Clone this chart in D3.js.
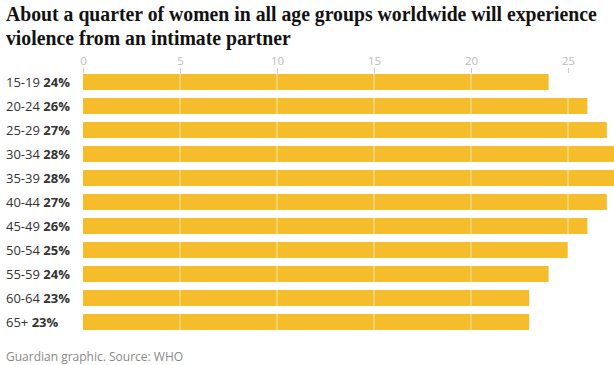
<!DOCTYPE html>
<html>
<head>
<meta charset="UTF-8">
<title>Intimate partner violence by age group</title>
<script src="https://d3js.org/d3.v7.min.js"></script>
<style>
  body { margin: 0; background: #fff; }
  svg { font-family: "Open Sans", sans-serif; }
</style>
</head>
<body>
<svg></svg>
<script>
  const ageGroups = ['15-19', '20-24', '25-29', '30-34', '35-39', '40-44', '45-49', '50-54', '55-59', '60-64', '65+'];
  const shares = [24, 26, 27, 28, 28, 27, 26, 25, 24, 23, 23];
  const tickValues = [0, 5, 10, 15, 20, 25];

  const titleLines = [
    'About a quarter of women in all age groups worldwide will experience',
    'violence from an intimate partner'
  ];
  const source = 'Guardian graphic. Source: WHO';

  const W = 614, H = 365;
  const margin = { top: 74, left: 83 };
  const step = 24, barH = 16;

  const svg = d3.select('svg').attr('width', W).attr('height', H);

  // title - narrowed horizontally to the width of the reference headline
  const titleG = svg.append('g');
  const titles = titleG.selectAll('.title')
    .data(titleLines)
    .enter().append('text')
    .attr('class', 'title')
    .attr('x', 0)
    .attr('y', (d, i) => 21 + i * 24)
    .attr('font-family', '"Liberation Serif", serif')
    .attr('font-weight', 'bold')
    .attr('font-size', '21px')
    .attr('fill', '#121212')
    .text(d => d);
  const squeeze = 591 / titles.node().getComputedTextLength();
  titleG.attr('transform', `translate(6,0) scale(${squeeze},1)`);

  const x = d3.scaleLinear().domain([0, 25]).range([margin.left, margin.left + 485]);
  const y = d3.scaleBand()
    .domain(ageGroups)
    .range([margin.top, margin.top + step * ageGroups.length - (step - barH)])
    .paddingInner((step - barH) / step)
    .paddingOuter(0);

  const data = ageGroups.map((g, i) => ({ group: g, value: shares[i] }));

  // axis on top
  const axis = svg.append('g')
    .attr('transform', 'translate(0,73)')
    .call(d3.axisTop(x).tickValues(tickValues).tickSize(5).tickPadding(3));
  axis.select('.domain').remove();
  axis.selectAll('line').attr('stroke', '#ccc');
  axis.selectAll('text')
    .attr('fill', '#bbb')
    .attr('font-size', '11.5px')
    .attr('font-family', '"Open Sans", sans-serif');

  svg.selectAll('.bar')
    .data(data)
    .enter().append('rect')
    .attr('class', 'bar')
    .attr('x', x(0))
    .attr('y', d => y(d.group))
    .attr('width', d => x(d.value) - x(0))
    .attr('height', y.bandwidth())
    .attr('fill', '#f5bc2b');

  // white gridlines over the bars
  svg.selectAll('.grid')
    .data(tickValues.slice(1))
    .enter().append('line')
    .attr('class', 'grid')
    .attr('x1', d => x(d))
    .attr('x2', d => x(d))
    .attr('y1', margin.top)
    .attr('y2', y.range()[1])
    .attr('stroke', '#fff')
    .attr('stroke-opacity', 0.6)
    .attr('stroke-width', 1);

  // row labels
  const labels = svg.selectAll('.label')
    .data(data)
    .enter().append('text')
    .attr('class', 'label')
    .attr('x', 6)
    .attr('y', d => y(d.group) + y.bandwidth() / 2)
    .attr('dy', '0.35em')
    .attr('font-size', '13px')
    .attr('fill', '#333');
  labels.append('tspan').text(d => d.group + ' ');
  labels.append('tspan').attr('font-weight', 'bold').text(d => d.value + '%');

  svg.append('text')
    .attr('x', 6)
    .attr('y', 361)
    .attr('font-size', '12px')
    .attr('fill', '#888')
    .text(source);
</script>
</body>
</html>
